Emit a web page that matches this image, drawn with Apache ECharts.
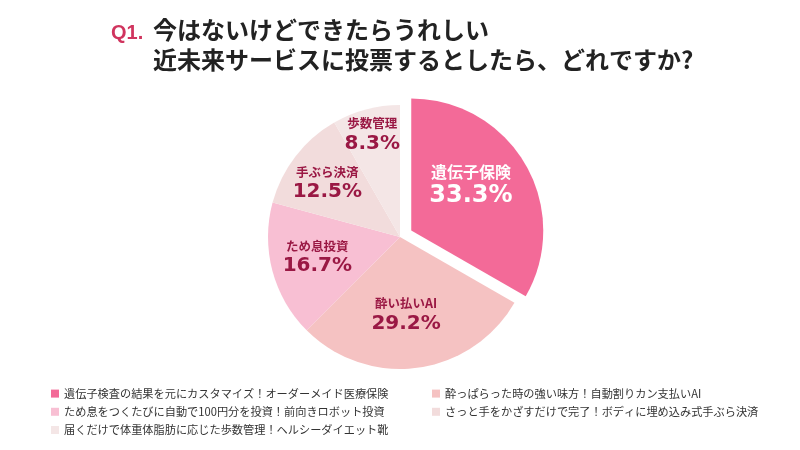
<!DOCTYPE html>
<html><head><meta charset="utf-8">
<script src="https://cdn.jsdelivr.net/npm/echarts@6/dist/echarts.min.js"></script>
<style>html,body{margin:0;padding:0;background:#fff}#c{width:800px;height:450px}</style>
</head><body><div id="c"></div>
<script>
const shortNames = ['遺伝子保険','酔い払いAI','ため息投資','手ぶら決済','歩数管理'];
const longNames = [
  '遺伝子検査の結果を元にカスタマイズ！オーダーメイド医療保険',
  '酔っぱらった時の強い味方！自動割りカン支払いAI',
  'ため息をつくたびに自動で100円分を投資！前向きロボット投資',
  'さっと手をかざすだけで完了！ボディに埋め込み式手ぶら決済',
  '届くだけで体重体脂肪に応じた歩数管理！ヘルシーダイエット靴'
];
const values = [33.3, 29.2, 16.7, 12.5, 8.3];
const colors = ['#f36a98','#f5c2c2','#f8bfd3','#f2dcdc','#f4e6e6'];
const titleLines = ['今はないけどできたらうれしい','近未来サービスに投票するとしたら、どれですか?'];
const labelOffsets = [[0,-11],[-3,9],[-16,2],[-18,-12],[-10,-36]];

const chart = echarts.init(document.getElementById('c'));
const font = '"Noto Sans CJK JP", "Noto Sans", sans-serif';
const pctFont = '"DejaVu Sans", "Liberation Sans", sans-serif';
const whiteRich = {
  n:{color:'#fff', fontSize:16, fontWeight:'bold', fontFamily:font, lineHeight:22, align:'center'},
  p:{color:'#fff', fontSize:24, fontWeight:'bold', fontFamily:pctFont, lineHeight:26, align:'center'}};
const data = values.map((v,i)=>{
  const lbl = Object.assign({offset: labelOffsets[i]}, i===0 ? {rich: whiteRich} : {});
  return {
    name: longNames[i], value: v,
    selected: i===0,
    itemStyle:{color: colors[i]},
    label: lbl,
    select: {label: lbl, itemStyle:{color: colors[i]}}
  };
});
chart.setOption({
  backgroundColor:'#fff',
  title:[
    {text:'Q1.', left:106, top:18, textStyle:{color:'#d0345e', fontSize:20, fontWeight:'bold', fontFamily:'"Liberation Sans", Arial, sans-serif'}},
    {text:titleLines.join('\n'), left:148, top:10, textStyle:{color:'#222', fontSize:24, fontWeight:'bold', lineHeight:30, fontFamily:font}}
  ],
  legend:[
    {orient:'vertical', left:46, top:383, itemWidth:8, itemHeight:8, itemGap:7, icon:'rect',
     data:[longNames[0],longNames[2],longNames[4]], selectedMode:false,
     textStyle:{fontSize:11.2, color:'#333', fontFamily:font}},
    {orient:'vertical', left:427, top:383, itemWidth:8, itemHeight:8, itemGap:7, icon:'rect',
     data:[longNames[1],longNames[3]], selectedMode:false,
     textStyle:{fontSize:11.2, color:'#333', fontFamily:font}}
  ],
  series:[{
    type:'pie', center:[400,237], radius:[0,132], startAngle:90, clockwise:true,
    selectedMode:'single', selectedOffset:13, silent:true,
    itemStyle:{borderColor:'#fff', borderWidth:0},
    emphasis:{disabled:true},
    labelLayout:{hideOverlap:false},
    label:{show:true, position:'inside', minMargin:0,
      formatter:(p)=>'{n|'+shortNames[p.dataIndex]+'}\n{p|'+values[p.dataIndex].toFixed(1)+'%}',
      rich:{
        n:{fontSize:12.5, fontWeight:'bold', color:'#9a1844', fontFamily:font, lineHeight:18, align:'center'},
        p:{fontSize:20, fontWeight:'bold', color:'#9a1844', fontFamily:pctFont, lineHeight:22, align:'center'}
      }},
    labelLine:{show:false},
    data:data
  }]
});
</script></body></html>
